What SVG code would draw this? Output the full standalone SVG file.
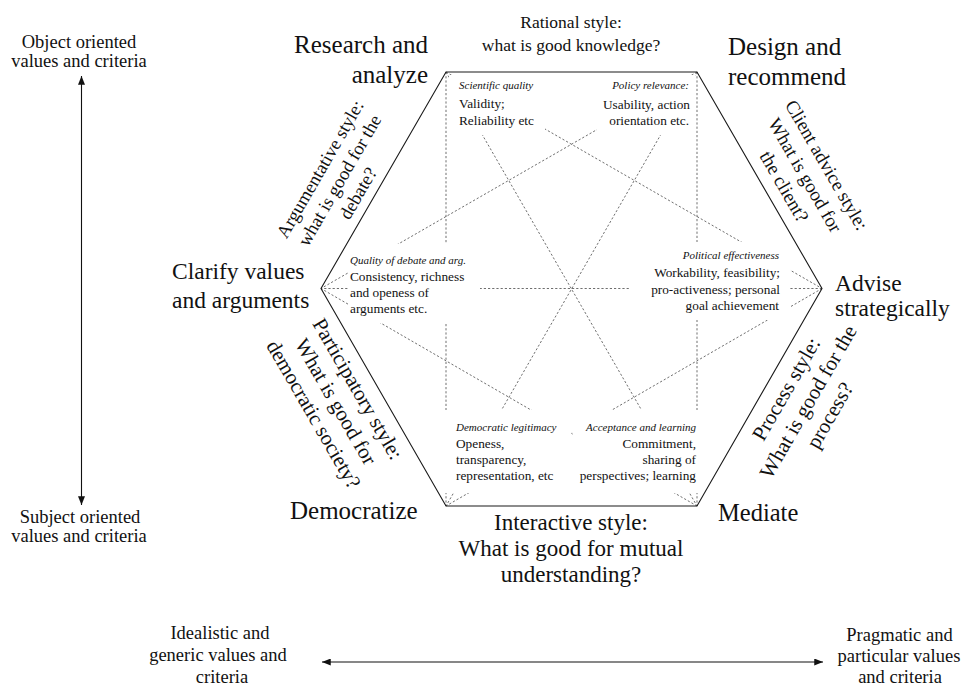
<svg xmlns="http://www.w3.org/2000/svg" width="967" height="693" viewBox="0 0 967 693">
<defs>
<marker id="ah" viewBox="0 0 10 8" refX="10" refY="4" markerWidth="9" markerHeight="7" markerUnits="userSpaceOnUse" orient="auto-start-reverse"><path d="M0,0 L10,4 L0,8 z" fill="#111"/></marker>
<style>
text{font-family:"Liberation Serif","Times New Roman",serif;fill:#111}
.big{font-size:24px}
.mid{font-size:18.5px}
.sm{font-size:13.3px}
.it{font-size:11px;font-style:italic}
.dot{stroke:#555;stroke-width:0.85;stroke-dasharray:2.2 2;fill:none}
.mask{fill:#fff}
.hex{fill:none;stroke:#1a1a1a;stroke-width:1.1}
.axis{stroke:#111;stroke-width:1.1;fill:none}
.e{text-anchor:end}
.m{text-anchor:middle}
</style>
</defs>
<rect width="967" height="693" fill="#fff"/>

<g id="connectors">
  <line class="dot" x1="446" y1="72" x2="822" y2="288.5"/>
  <line class="dot" x1="446" y1="72" x2="697" y2="506"/>
  <line class="dot" x1="446" y1="72" x2="446" y2="506"/>
  <line class="dot" x1="697" y1="72" x2="697" y2="506"/>
  <line class="dot" x1="697" y1="72" x2="446" y2="506"/>
  <line class="dot" x1="697" y1="72" x2="321" y2="288.5"/>
  <line class="dot" x1="822" y1="288.5" x2="446" y2="506"/>
  <line class="dot" x1="822" y1="288.5" x2="321" y2="288.5"/>
  <line class="dot" x1="697" y1="506" x2="321" y2="288.5"/>
  <line class="axis" x1="81.5" y1="76" x2="81.5" y2="505" marker-start="url(#ah)" marker-end="url(#ah)"/>
  <line class="axis" x1="322" y1="662" x2="823" y2="662" marker-start="url(#ah)" marker-end="url(#ah)"/>
</g>

<g id="crit-scientific">
  <rect class="mask" x="449" y="75" width="96" height="60"/>
  <text class="it" x="459" y="89">Scientific quality</text>
  <text class="sm" x="459" y="108">Validity;</text>
  <text class="sm" x="459" y="124.5">Reliability etc</text>
</g>
<g id="crit-policy">
  <rect class="mask" x="597" y="75" width="98" height="60"/>
  <text class="it e" x="689" y="88.5">Policy relevance:</text>
  <text class="sm e" x="690" y="108.5">Usability, action</text>
  <text class="sm e" x="689" y="125">orientation etc.</text>
</g>
<g id="crit-debate">
  <rect class="mask" x="348" y="244" width="132" height="79"/>
  <text class="it" x="350" y="263.5">Quality of debate and arg.</text>
  <text class="sm" x="350" y="280.5">Consistency, richness</text>
  <text class="sm" x="350" y="296.5">and openess of</text>
  <text class="sm" x="350" y="312.5">arguments etc.</text>
</g>
<g id="crit-political">
  <rect class="mask" x="630" y="242" width="160" height="78"/>
  <text class="it e" x="779" y="259">Political effectiveness</text>
  <text class="sm e" x="780" y="277">Workability, feasibility;</text>
  <text class="sm e" x="780" y="293.5">pro-activeness; personal</text>
  <text class="sm e" x="779" y="310">goal achievement</text>
</g>
<g id="crit-democratic">
  <rect class="mask" x="444" y="410" width="127" height="83"/>
  <text class="it" x="456" y="431">Democratic legitimacy</text>
  <text class="sm" x="456" y="447.5">Openess,</text>
  <text class="sm" x="456" y="463.5">transparency,</text>
  <text class="sm" x="456" y="480">representation, etc</text>
</g>
<g id="crit-acceptance">
  <rect class="mask" x="572.6" y="410" width="126.4" height="83"/>
  <text class="it e" x="696" y="431">Acceptance and learning</text>
  <text class="sm e" x="696" y="447.5">Commitment,</text>
  <text class="sm e" x="696" y="463.5">sharing of</text>
  <text class="sm e" x="696" y="480">perspectives; learning</text>
</g>

<polygon id="hexagon" class="hex" points="446,72 697,72 822,288.5 697,506 446,506 321,288.5"/>

<g id="role-research" style="font-size:25px">
  <text class="e" x="428" y="53">Research and</text>
  <text class="e" x="428" y="83">analyze</text>
</g>
<g id="role-design" style="font-size:25px">
  <text x="728" y="55">Design and</text>
  <text x="728" y="85">recommend</text>
</g>
<g id="role-clarify" style="font-size:23.5px">
  <text x="172" y="279">Clarify values</text>
  <text x="172" y="308">and arguments</text>
</g>
<g id="role-advise" style="font-size:23.5px">
  <text x="835" y="291">Advise</text>
  <text x="835" y="316">strategically</text>
</g>
<g id="role-democratize" style="font-size:25px">
  <text x="290" y="519">Democratize</text>
</g>
<g id="role-mediate" style="font-size:24.5px">
  <text x="718" y="521">Mediate</text>
</g>

<g id="style-rational" style="font-size:17.5px">
  <text class="m" x="571" y="28">Rational style:</text>
  <text class="m" x="571" y="51">what is good knowledge?</text>
</g>
<g id="style-interactive" style="font-size:23px">
  <text class="m" x="571" y="530">Interactive style:</text>
  <text class="m" x="571" y="556">What is good for mutual</text>
  <text class="m" x="571" y="582">understanding?</text>
</g>
<g id="style-argumentative" transform="translate(321.7,170) rotate(-60)" style="font-size:18.5px">
  <text class="m" x="0" y="4.3">Argumentative style:</text>
  <text class="m" x="0" y="26.8">what is good for the</text>
  <text class="m" x="-2" y="49.3">debate?</text>
</g>
<g id="style-client" transform="translate(825,166) rotate(60)" style="font-size:19px">
  <text class="m" x="0" y="4.4">Client advice style:</text>
  <text class="m" x="-2" y="28.2">What is good for</text>
  <text class="m" x="-2.5" y="52">the client?</text>
</g>
<g id="style-participatory" transform="translate(356,390) rotate(60)" style="font-size:21px">
  <text class="m" x="0" y="4.8">Participatory style:</text>
  <text class="m" x="0" y="30.3">What is good for</text>
  <text class="m" x="0" y="55.8">democratic society?</text>
</g>
<g id="style-process" transform="translate(788,390) rotate(-60)" style="font-size:21px">
  <text class="m" x="0" y="4.8">Process style:</text>
  <text class="m" x="0" y="30.3">What is good for the</text>
  <text class="m" x="-1" y="55.8">process?</text>
</g>

<g id="axis-object">
  <text class="mid m" x="79" y="48">Object oriented</text>
  <text class="mid m" x="79" y="66.5">values and criteria</text>
</g>
<g id="axis-subject">
  <text class="mid m" x="80" y="523">Subject oriented</text>
  <text class="mid m" x="79" y="542">values and criteria</text>
</g>
<g id="axis-idealistic">
  <text class="mid m" x="220" y="639">Idealistic and</text>
  <text class="mid m" x="218" y="661">generic values and</text>
  <text class="mid m" x="222" y="683">criteria</text>
</g>
<g id="axis-pragmatic">
  <text class="mid m" x="899.5" y="640.5">Pragmatic and</text>
  <text class="mid m" x="899" y="661.5">particular values</text>
  <text class="mid m" x="900" y="682.5">and criteria</text>
</g>
</svg>
